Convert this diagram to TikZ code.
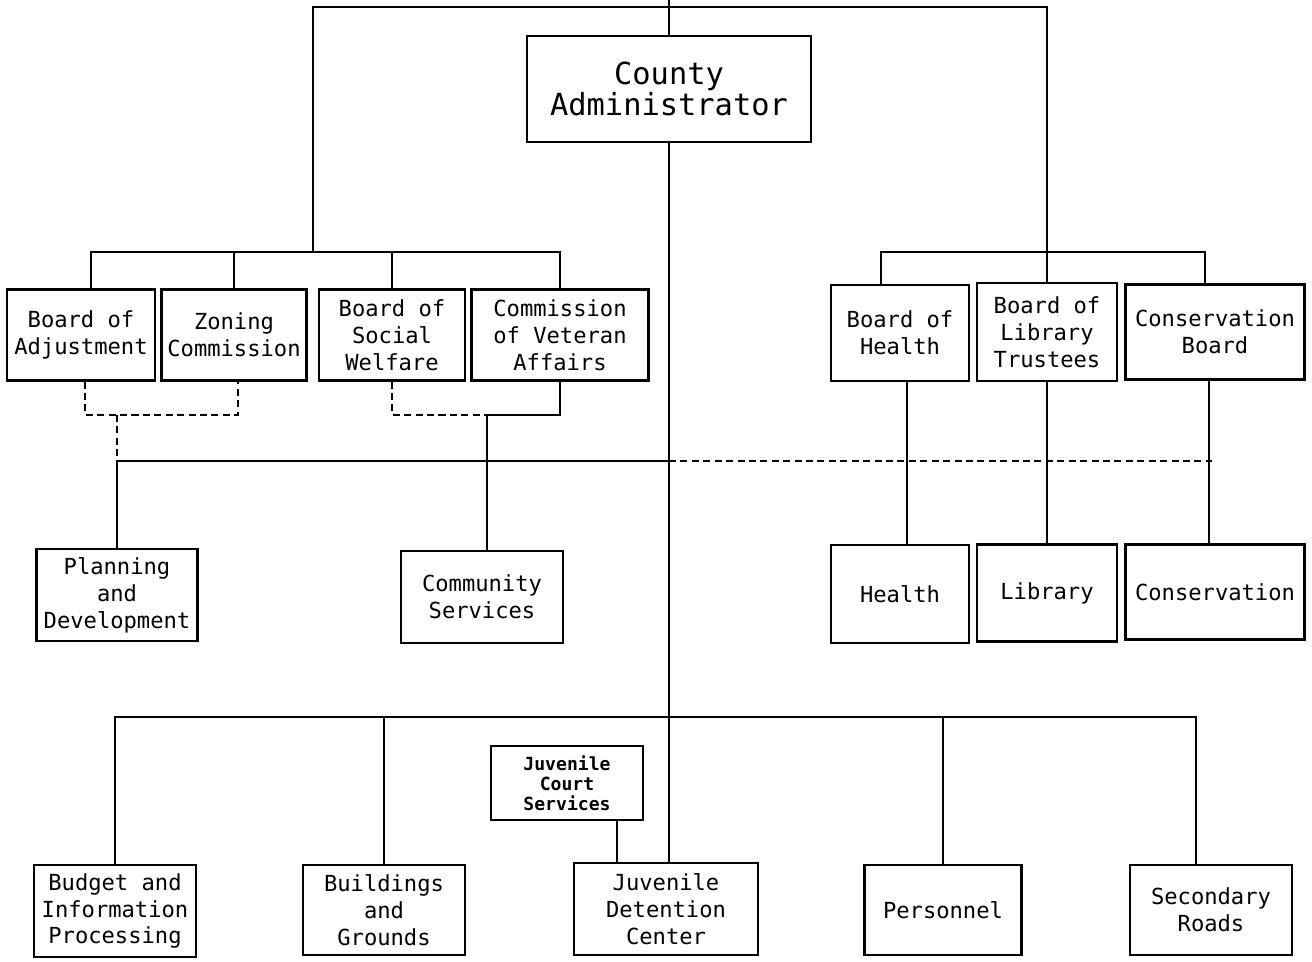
\documentclass[tikz,border=0pt]{standalone}
\usepackage{fontspec}
\setmonofont{DejaVu Sans Mono}
\usepackage{tikz}

\begin{document}
\begin{tikzpicture}[x=0.02cm, y=-0.02cm,
box_style/.style={rectangle,draw=black,line width=1.2pt,fill=white,align=center,inner sep=1pt,font=\ttfamily\fontsize{12.6}{15.3}\selectfont},
edge_style/.style={draw=black,line width=1.1pt},
dash_style/.style={draw=black,line width=1.1pt,dash pattern=on 4pt off 2.5pt}]
\useasboundingbox (0,0) rectangle (1312,961);

% top
\node[box_style,minimum width=5.68cm,minimum height=2.12cm,font=\ttfamily\fontsize{17.3}{18.1}\selectfont] (county) at (669,89) {County\\Administrator};

% boards
\node[box_style,minimum width=2.96cm,minimum height=1.82cm] (adj) at (81,335) {Board of\\Adjustment};
\node[box_style,minimum width=2.90cm,minimum height=1.82cm] (zon) at (234,335) {Zoning\\Commission};
\node[box_style,minimum width=2.92cm,minimum height=1.82cm] (soc) at (392,335) {Board of\\Social\\Welfare};
\node[box_style,minimum width=3.54cm,minimum height=1.82cm] (vet) at (560,335) {Commission\\of Veteran\\Affairs};
\node[box_style,minimum width=2.76cm,minimum height=1.92cm] (boh) at (900,333) {Board of\\Health};
\node[box_style,minimum width=2.80cm,minimum height=1.96cm] (lib) at (1047,332) {Board of\\Library\\Trustees};
\node[box_style,minimum width=3.58cm,minimum height=1.90cm] (cb) at (1215,332) {Conservation\\Board};

% departments
\node[box_style,minimum width=3.22cm,minimum height=1.84cm] (plan) at (117,595) {Planning\\and\\Development};
\node[box_style,minimum width=3.24cm,minimum height=1.84cm] (comm) at (482,597) {Community\\Services};
\node[box_style,minimum width=2.76cm,minimum height=1.96cm] (health) at (900,594) {Health};
\node[box_style,minimum width=2.80cm,minimum height=1.94cm] (library) at (1047,593) {Library};
\node[box_style,minimum width=3.58cm,minimum height=1.90cm] (cons) at (1215,592) {Conservation};

\node[box_style,minimum width=3.04cm,minimum height=1.48cm,font=\ttfamily\bfseries\fontsize{10.3}{11.3}\selectfont] (jcs) at (567,783) {Juvenile\\Court\\Services};
\node[box_style,minimum width=3.24cm,minimum height=1.84cm] (budget) at (115,911) {Budget and\\Information\\Processing};
\node[box_style,minimum width=3.24cm,minimum height=1.80cm] (bldg) at (384,910) {Buildings\\and\\Grounds};
\node[box_style,minimum width=3.68cm,minimum height=1.84cm] (jdc) at (666,909) {Juvenile\\Detention\\Center};
\node[box_style,minimum width=3.14cm,minimum height=1.80cm] (pers) at (943,910) {Personnel};
\node[box_style,minimum width=3.24cm,minimum height=1.80cm] (roads) at (1211,910) {Secondary\\Roads};

\coordinate (edge) at (669,0);
\coordinate (topbar) at (669,7);
\coordinate (ljoin) at (313,252);
\coordinate (rbar) at (1045,252);
\coordinate (ldash) at (120,415);
\coordinate (rdash) at (487,415);
\coordinate (mbar) at (669,461);
\coordinate (bbar) at (669,717);

% solid lines
\draw[edge_style] (county.north) -- (edge);
\draw[edge_style] (ljoin) |- (lib.north |- topbar) -- (lib.north);
\draw[edge_style] ([xshift=0.2cm]adj.north) |- (vet.north |- ljoin) -- (vet.north);
\draw[edge_style] (zon.north) -- (zon.north |- ljoin);
\draw[edge_style] (soc.north) -- (soc.north |- ljoin);
\draw[edge_style] ([xshift=-0.38cm]boh.north) |- ([xshift=-0.2cm]cb.north |- rbar) -- ([xshift=-0.2cm]cb.north);
\draw[edge_style] (county.south) -- (county.south |- jdc.north);
\draw[edge_style] (vet.south) |- (rdash) -- (rdash |- comm.north);
\draw[edge_style] (plan.north) |- (mbar);
\draw[edge_style] ([xshift=0.14cm]boh.south) -- ([xshift=0.14cm]health.north);
\draw[edge_style] (lib.south) -- (library.north);
\draw[edge_style] ([xshift=-0.12cm]cb.south) -- ([xshift=-0.12cm]cons.north);
\draw[edge_style] (budget.north) |- ([xshift=-0.3cm]roads.north |- bbar) -- ([xshift=-0.3cm]roads.north);
\draw[edge_style] (bldg.north) -- (bldg.north |- bbar);
\draw[edge_style] (pers.north) -- (pers.north |- bbar);
\draw[edge_style] ([xshift=1cm]jcs.south) -- ([xshift=1cm]jcs.south |- jdc.north);

% dashed lines
\draw[dash_style] ([xshift=0.08cm]adj.south) |- ([xshift=0.08cm]zon.south |- ldash) -- ([xshift=0.08cm]zon.south);
\draw[dash_style] (plan.north |- ldash) -- (plan.north |- mbar);
\draw[dash_style] (soc.south) |- (rdash);
\draw[dash_style] (mbar) -- ([xshift=-0.06cm]cons.north |- mbar);

\end{tikzpicture}
\end{document}
